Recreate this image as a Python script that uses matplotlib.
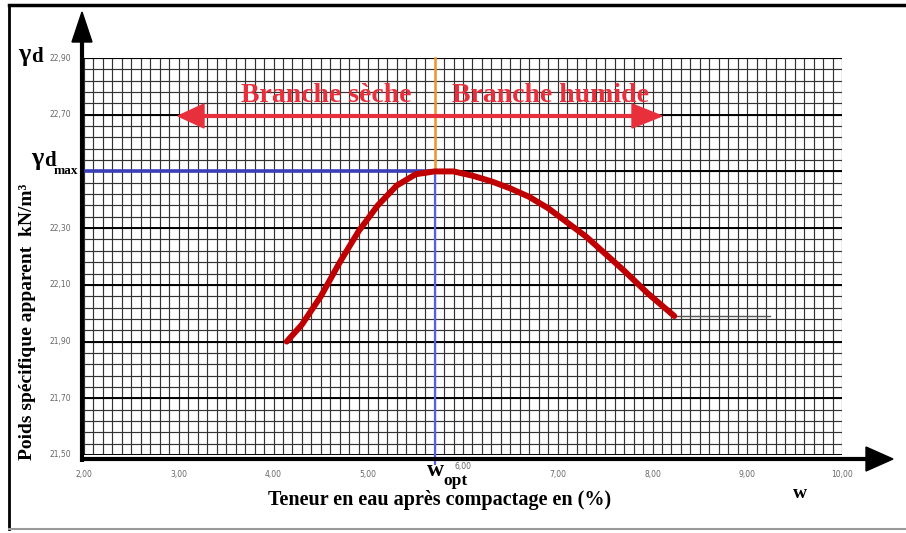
import numpy as np
import matplotlib
matplotlib.use("Agg")
import matplotlib.pyplot as plt
from matplotlib.patches import Polygon

# ---------------- data ----------------
w_curve = [4.14, 4.30, 4.50, 4.70, 4.90, 5.10, 5.30, 5.50, 5.70, 5.90, 6.10, 6.30, 6.50, 6.70, 6.90, 7.10, 7.30, 7.50, 7.70, 7.95, 8.23]
gamma_curve = [21.90, 21.96, 22.06, 22.18, 22.29, 22.38, 22.45, 22.49, 22.50, 22.50, 22.485, 22.465, 22.44, 22.41, 22.37, 22.32, 22.27, 22.21, 22.15, 22.07, 21.99]
w_tail = [8.23, 9.24]
gamma_tail = [21.99, 21.99]
w_opt = 5.70
gamma_dmax = 22.50

x_ticks = [2, 3, 4, 5, 6, 7, 8, 9, 10]
x_tick_labels = ["2,00", "3,00", "4,00", "5,00", "6,00", "7,00", "8,00", "9,00", "10,00"]
y_ticks = [21.50, 21.70, 21.90, 22.10, 22.30, 22.70, 22.90]
y_tick_labels = ["21,50", "21,70", "21,90", "22,10", "22,30", "22,70", "22,90"]

W, H = 906, 533
fig = plt.figure(figsize=(W / 100, H / 100), dpi=100)
fig.patch.set_facecolor("white")

serif = ["Liberation Serif", "DejaVu Serif"]

# main axes: x 2..10 -> px 84..842, y 21.5..22.9 -> px 455..58
L, R, T, B = 84, 842, 58, 455
ax = fig.add_axes([L / W, (H - B) / H, (R - L) / W, (B - T) / H])
ax.set_xlim(2, 10)
ax.set_ylim(21.5, 22.9)
for s in ax.spines.values():
    s.set_visible(False)
ax.set_xticks([])
ax.set_yticks([])

# grid
for xv in np.arange(2.0, 10.001, 0.1):
    ax.axvline(xv, color="#333333", lw=0.85, zorder=1)
for yv in np.arange(21.5, 22.9001, 0.04):
    ax.axhline(yv, color="#333333", lw=0.85, zorder=1)
for yv in np.arange(21.5, 22.9001, 0.2):
    ax.axhline(yv, color="black", lw=1.4, zorder=1)

# reference lines
ax.plot([2, w_opt], [gamma_dmax, gamma_dmax], color="#3a3fb8", lw=2.6, zorder=3, clip_on=False)
ax.plot([w_opt, w_opt], [21.47, gamma_dmax], color="#5561e0", lw=1.6, zorder=3, clip_on=False)
ax.plot([w_opt, w_opt], [gamma_dmax, 22.9], color="#f2952e", lw=1.8, zorder=3, clip_on=False)

# curve
ax.plot(w_tail, gamma_tail, color="#555555", lw=1.0, zorder=3)
ax.plot(w_curve, gamma_curve, color="#c00000", lw=4.3, solid_capstyle="round",
        solid_joinstyle="round", zorder=4)

# tick labels
xt = ax.get_xaxis_transform()
for v, lab in zip(x_ticks, x_tick_labels):
    yoff = -14 if v != 6 else -8
    ax.annotate(lab, (v, 0), xycoords=xt, xytext=(0, yoff), textcoords="offset points",
                ha="center", va="center", fontsize=5.5, color="#666666", annotation_clip=False)
yt = ax.get_yaxis_transform()
for v, lab in zip(y_ticks, y_tick_labels):
    ax.annotate(lab, (0, v), xycoords=yt, xytext=(-9, 0), textcoords="offset points",
                ha="right", va="center", fontsize=5.5, color="#666666", annotation_clip=False)

# overlay in pixel coordinates for decorations
ov = fig.add_axes([0, 0, 1, 1], zorder=5)
ov.set_xlim(0, W)
ov.set_ylim(H, 0)
ov.axis("off")
ov.patch.set_alpha(0)

# frame
ov.plot([9, W], [5, 5], color="black", lw=2.5)
ov.plot([9, 9], [5, 529], color="black", lw=2.0)
ov.plot([9, W], [529, 529], color="#9a9a9a", lw=1.5)

# axes arrows
ov.plot([82, 82], [462, 38], color="black", lw=3.0, solid_capstyle="butt")
ov.add_patch(Polygon([(72, 42), (92, 42), (82, 12)], closed=True, color="black"))
ov.plot([80, 870], [459, 459], color="black", lw=3.0, solid_capstyle="butt")
ov.add_patch(Polygon([(866, 447), (866, 471), (893, 459)], closed=True, color="black"))

# red double arrow
red = "#e8303c"
ov.plot([198, 640], [116, 116], color=red, lw=3.0, solid_capstyle="butt")
ov.add_patch(Polygon([(178, 116), (204, 104), (204, 128)], closed=True, color=red))
ov.add_patch(Polygon([(662, 116), (632, 104), (632, 128)], closed=True, color=red))
ov.text(326, 96, "Branche sèche", color=red, fontsize=20, fontweight="bold",
        family=serif, ha="center", va="center")
ov.text(551, 96, "Branche humide", color=red, fontsize=20, fontweight="bold",
        family=serif, ha="center", va="center")

# labels
ov.text(18, 54, "γ", fontsize=19, fontweight="bold", family=serif, ha="left", va="center")
ov.text(31, 57, "d", fontsize=15, fontweight="bold", family=serif, ha="left", va="center")
ov.text(31, 158, "γ", fontsize=19, fontweight="bold", family=serif, ha="left", va="center")
ov.text(44, 161, "d", fontsize=15, fontweight="bold", family=serif, ha="left", va="center")
ov.text(54, 171, "max", fontsize=9.5, fontweight="bold", family=serif, ha="left", va="center")

ov.text(28, 322, "Poids spécifique apparent  kN/m³", rotation=90, fontsize=14,
        fontweight="bold", family=serif, ha="center", va="center")

ov.text(435, 470, "w", fontsize=17, fontweight="bold", family=serif, ha="center", va="center")
ov.text(443, 481, "opt", fontsize=12.5, fontweight="bold", family=serif, ha="left", va="center")
ov.text(440, 500, "Teneur en eau après compactage en (%)", fontsize=14.5,
        fontweight="bold", family=serif, ha="center", va="center")
ov.text(800, 493, "w", fontsize=14, fontweight="bold", family=serif, ha="center", va="center")

fig.savefig("out.png", dpi=100)
